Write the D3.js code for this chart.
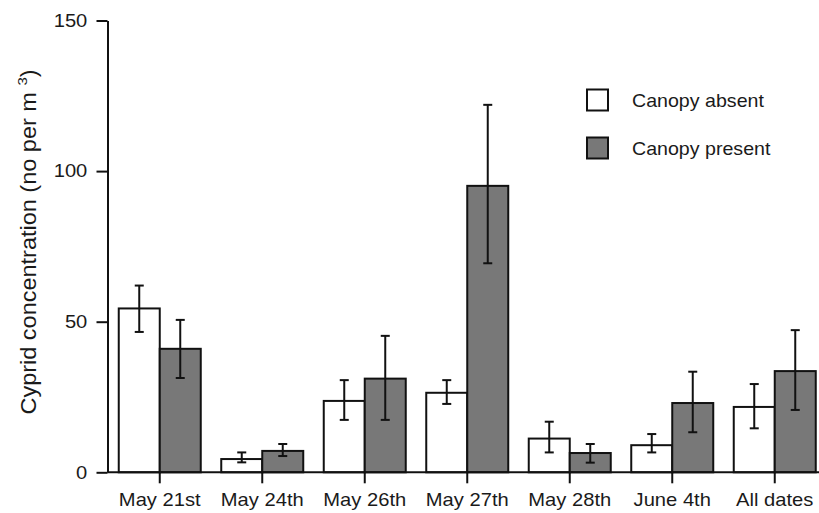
<!DOCTYPE html>
<html><head><meta charset="utf-8">
<script src="https://cdn.jsdelivr.net/npm/d3@7"></script>
<style>
body{margin:0;background:#fff;}
text{font-family:"Liberation Sans",Arial,Helvetica,sans-serif;fill:#1a1a1a;}
</style></head>
<body>
<svg id="chart" width="819" height="513"></svg>
<script>
const categories = ["May 21st","May 24th","May 26th","May 27th","May 28th","June 4th","All dates"];
const seriesNames = ["Canopy absent","Canopy present"];
const absentMean = [54.4, 4.4, 23.7, 26.4, 11.2, 9.0, 21.7];
const absentLow  = [46.6, 3.3, 17.4, 22.7, 6.6, 6.6, 14.6];
const absentHigh = [62.0, 6.6, 30.6, 30.6, 16.8, 12.7, 29.3];
const presentMean = [41.0, 7.1, 31.1, 95.1, 6.4, 23.0, 33.6];
const presentLow  = [31.3, 5.4, 17.4, 69.4, 3.2, 13.3, 20.7];
const presentHigh = [50.6, 9.4, 45.3, 122.0, 9.4, 33.4, 47.2];
const yTicks = [0, 50, 100, 150];
const fills = ["#ffffff", "#787878"];

const svg = d3.select("#chart");
const SX = 1.12;
const x = d3.scaleBand().domain(categories).range([108.5, 826]).padding(0);
const y = d3.scaleLinear().domain([0, 150]).range([472.3, 20.5]);
const bw = x.bandwidth() * 0.4;

const series = [
  {mean: absentMean, low: absentLow, high: absentHigh},
  {mean: presentMean, low: presentLow, high: presentHigh}
];

// bars
series.forEach((s, si) => {
  const g = svg.append("g");
  g.selectAll("rect").data(categories).enter().append("rect")
    .attr("x", (c) => x(c) + x.bandwidth()/2 + (si === 0 ? -bw : 0))
    .attr("y", (c, i) => y(s.mean[i]))
    .attr("width", bw)
    .attr("height", (c, i) => y(0) - y(s.mean[i]))
    .attr("fill", fills[si])
    .attr("stroke", "#111").attr("stroke-width", 2);
  // error bars
  const eg = svg.append("g").attr("stroke", "#111").attr("stroke-width", 2).attr("fill", "none");
  categories.forEach((c, i) => {
    const cx = x(c) + x.bandwidth()/2 + (si === 0 ? -bw/2 : bw/2);
    eg.append("line").attr("x1", cx).attr("x2", cx).attr("y1", y(s.low[i])).attr("y2", y(s.high[i]));
    eg.append("line").attr("x1", cx-4.5).attr("x2", cx+4.5).attr("y1", y(s.low[i])).attr("y2", y(s.low[i]));
    eg.append("line").attr("x1", cx-4.5).attr("x2", cx+4.5).attr("y1", y(s.high[i])).attr("y2", y(s.high[i]));
  });
});

// axes
const yAxis = svg.append("g").attr("transform", "translate(107.5,0)")
  .call(d3.axisLeft(y).tickValues(yTicks).tickSize(11).tickPadding(7).tickSizeOuter(0));
const xAxis = svg.append("g").attr("transform", "translate(0,472.3)")
  .call(d3.axisBottom(x).tickSize(11).tickPadding(10).tickSizeOuter(0));
[yAxis, xAxis].forEach(a => {
  a.select(".domain").attr("stroke", "#111").attr("stroke-width", 2);
  a.selectAll(".tick line").attr("stroke", "#111").attr("stroke-width", 2);
  a.selectAll(".tick text").attr("font-size", 18).attr("fill", "#1a1a1a")
    .attr("font-family", "Liberation Sans, Arial, sans-serif");
});
xAxis.select(".domain").attr("d", "M" + 107.5 + ",0H819");
xAxis.selectAll(".tick text").attr("transform", `scale(${SX},1)`);
yAxis.selectAll(".tick text").attr("transform", `scale(${SX},1)`);

// y title
const yt = svg.append("text")
  .attr("transform", `translate(35.5,242) rotate(-90) scale(1,0.9)`)
  .attr("text-anchor", "middle").attr("font-size", 23.5);
yt.append("tspan").text("Cyprid concentration (no per m ");
yt.append("tspan").attr("font-size", 15).attr("dy", -10).text("3");
yt.append("tspan").attr("dy", 10).text(")");

// legend
const lg = svg.append("g");
seriesNames.forEach((n, i) => {
  const cy = 100 + i * 48;
  lg.append("rect").attr("x", 587).attr("y", cy - 10.5).attr("width", 21).attr("height", 21)
    .attr("fill", fills[i]).attr("stroke", "#111").attr("stroke-width", 2);
  lg.append("text").attr("transform", `translate(632,${cy + 6.5}) scale(1.09,1)`)
    .attr("font-size", 18).text(n);
});
</script>
</body></html>
